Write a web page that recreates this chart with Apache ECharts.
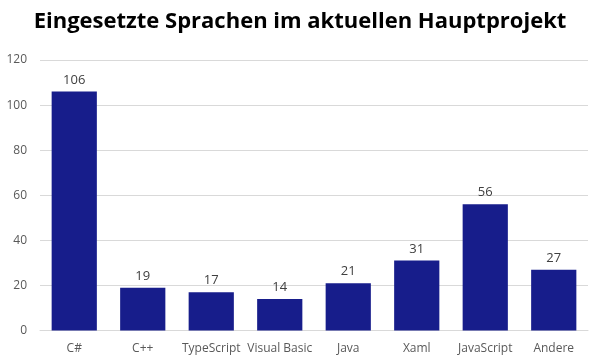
<!DOCTYPE html>
<html><head><meta charset="utf-8">
<script src="https://cdn.jsdelivr.net/npm/echarts@6/dist/echarts.min.js"></script>
<style>html,body{margin:0;padding:0;background:#fff}#c{width:600px;height:362px}</style>
</head><body><div id="c"></div>
<script>
const categories = ["C#","C++","TypeScript","Visual Basic","Java","Xaml","JavaScript","Andere"];
const values = [106,19,17,14,21,31,56,27];
const yTicks = {min:0,max:120,interval:20};
const chart = echarts.init(document.getElementById('c'));
chart.setOption({
  animation:false,
  title:{text:"Eingesetzte Sprachen im aktuellen Hauptprojekt",left:'center',top:6,
    textStyle:{fontFamily:"Open Sans",fontWeight:'bold',fontSize:22,color:'#000'}},
  grid:{left:40,right:12,top:60,bottom:31.5},
  xAxis:{type:'category',data:categories,
    axisLine:{lineStyle:{color:'#d9d9d9'}},axisTick:{show:false},
    axisLabel:{color:'#595959',fontFamily:"Open Sans",fontSize:12,margin:12,interval:0}},
  yAxis:{type:'value',min:yTicks.min,max:yTicks.max,interval:yTicks.interval,
    axisLine:{show:false},axisTick:{show:false},
    splitLine:{lineStyle:{color:'#d9d9d9'}},
    axisLabel:{color:'#595959',fontFamily:"Open Sans",fontSize:12,margin:13}},
  series:[{type:'bar',data:values,barCategoryGap:'34%',
    itemStyle:{color:'#171d8b'},
    label:{show:true,position:'top',color:'#404040',fontFamily:"Open Sans",fontSize:13,distance:5}}]
});
</script></body></html>
